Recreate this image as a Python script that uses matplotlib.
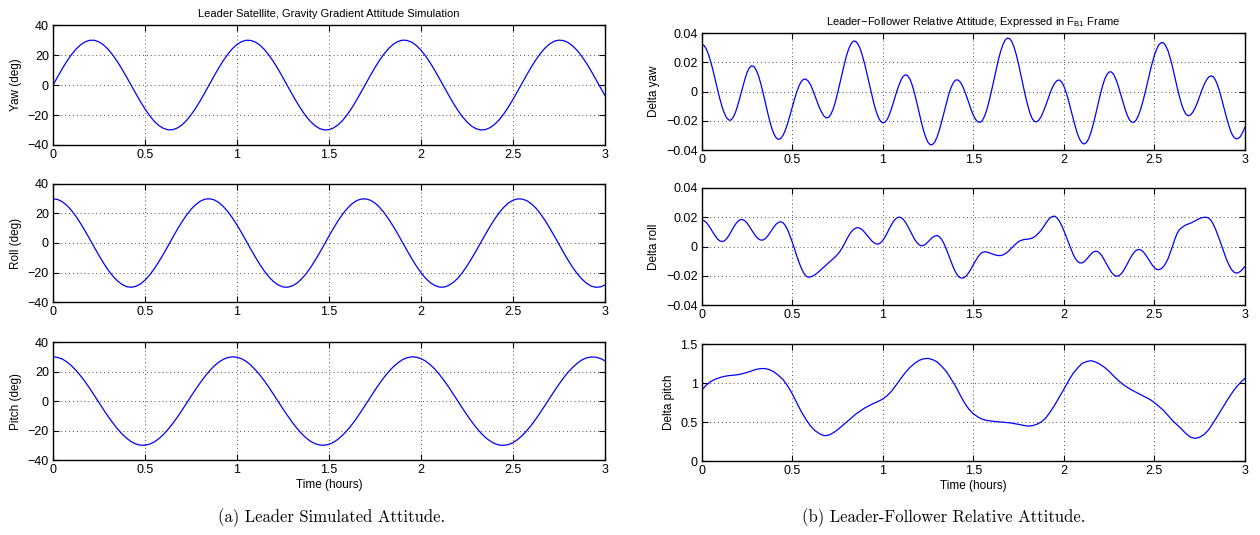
import numpy as np
import matplotlib
matplotlib.use("Agg")
import matplotlib.pyplot as plt
from matplotlib.ticker import FuncFormatter

# --- data ---------------------------------------------------------------
# left column + right pitch: samples every 0.025 h
t_mid = np.linspace(0, 3, 121)
yaw = [0.0, 5.5, 10.9, 15.9, 20.3, 24.0, 26.9, 28.9, 29.9, 29.9,
       28.8, 26.8, 23.8, 20.0, 15.6, 10.6, 5.3, -0.2, -5.7, -11.0,
       -16.0, -20.4, -24.2, -27.0, -28.9, -29.9, -29.8, -28.7, -26.7, -23.7,
       -19.9, -15.5, -10.5, -5.1, 0.4, 6.0, 11.3, 16.2, 20.6, 24.3,
       27.1, 29.0, 29.9, 29.8, 28.7, 26.6, 23.6, 19.8, 15.3, 10.3,
       4.9, -0.7, -6.2, -11.5, -16.4, -20.8, -24.4, -27.2, -29.1, -30.0,
       -29.8, -28.6, -26.5, -23.5, -19.6, -15.1, -10.0, -4.6, 0.9, 6.4,
       11.7, 16.6, 20.9, 24.5, 27.3, 29.1, 30.0, 29.8, 28.6, 26.4,
       23.3, 19.4, 14.9, 9.8, 4.4, -1.1, -6.6, -11.9, -16.8, -21.1,
       -24.6, -27.4, -29.2, -30.0, -29.7, -28.5, -26.3, -23.2, -19.3, -14.7,
       -9.6, -4.2, 1.3, 6.8, 12.1, 16.9, 21.2, 24.8, 27.5, 29.3,
       30.0, 29.7, 28.4, 26.1, 23.0, 19.1, 14.5, 9.4, 4.0, -1.5,
       -7.0]
roll = [30.0, 29.5, 28.0, 25.5, 22.1, 18.0, 13.2, 8.0, 2.5, -3.1,
        -8.5, -13.7, -18.4, -22.4, -25.7, -28.1, -29.6, -30.0, -29.4, -27.8,
        -25.2, -21.7, -17.5, -12.7, -7.5, -2.0, 3.6, 9.1, 14.2, 18.8,
        22.8, 26.0, 28.3, 29.7, 30.0, 29.3, 27.5, 24.8, 21.3, 17.0,
        12.2, 6.9, 1.4, -4.2, -9.6, -14.7, -19.3, -23.2, -26.3, -28.5,
        -29.8, -30.0, -29.1, -27.3, -24.5, -20.9, -16.6, -11.7, -6.4, -0.9,
        4.7, 10.1, 15.2, 19.7, 23.5, 26.6, 28.7, 29.8, 29.9, 29.0,
        27.1, 24.2, 20.5, 16.1, 11.2, 5.9, 0.3, -5.2, -10.6, -15.6,
        -20.1, -23.9, -26.8, -28.8, -29.9, -29.9, -28.8, -26.8, -23.9, -20.1,
        -15.6, -10.6, -5.3, 0.3, 5.8, 11.1, 16.1, 20.5, 24.2, 27.1,
        29.0, 29.9, 29.8, 28.7, 26.6, 23.6, 19.7, 15.2, 10.1, 4.7,
        -0.8, -6.4, -11.7, -16.6, -20.9, -24.5, -27.3, -29.2, -30.0, -29.8,
        -28.5]
pitch = [30.0, 29.6, 28.5, 26.6, 24.0, 20.8, 17.1, 13.0, 8.5, 3.7,
         -1.1, -5.9, -10.5, -14.8, -18.8, -22.3, -25.2, -27.5, -29.1, -29.9,
         -29.9, -29.2, -27.7, -25.5, -22.7, -19.2, -15.3, -11.0, -6.4, -1.6,
         3.2, 7.9, 12.4, 16.6, 20.4, 23.7, 26.3, 28.3, 29.5, 30.0,
         29.7, 28.7, 26.9, 24.4, 21.2, 17.6, 13.5, 9.0, 4.3, -0.5,
         -5.3, -9.9, -14.3, -18.3, -21.9, -24.9, -27.3, -28.9, -29.8, -29.9,
         -29.3, -27.9, -25.8, -23.0, -19.7, -15.9, -11.6, -7.0, -2.2, 2.6,
         7.4, 12.0, 16.2, 20.0, 23.3, 26.0, 28.1, 29.4, 30.0, 29.8,
         28.8, 27.1, 24.7, 21.7, 18.1, 14.0, 9.6, 4.9, 0.1, -4.7,
         -9.4, -13.8, -17.9, -21.5, -24.6, -27.0, -28.8, -29.8, -30.0, -29.5,
         -28.2, -26.1, -23.4, -20.1, -16.3, -12.1, -7.5, -2.8, 2.0, 6.8,
         11.4, 15.7, 19.6, 22.9, 25.7, 27.9, 29.3, 29.9, 29.8, 28.9,
         27.3]
d_pitch = [0.91, 0.975, 1.02, 1.05, 1.07, 1.085, 1.095, 1.10, 1.107, 1.12,
           1.135, 1.155, 1.175, 1.185, 1.185, 1.17, 1.14, 1.095, 1.04, 0.96,
           0.86, 0.745, 0.63, 0.535, 0.45, 0.39, 0.35, 0.325, 0.33, 0.36,
           0.40, 0.45, 0.50, 0.55, 0.60, 0.64, 0.68, 0.71, 0.74, 0.765,
           0.795, 0.84, 0.90, 0.98, 1.06, 1.135, 1.20, 1.25, 1.29, 1.31,
           1.316, 1.30, 1.27, 1.215, 1.15, 1.06, 0.966, 0.855, 0.75, 0.665,
           0.605, 0.565, 0.535, 0.52, 0.512, 0.505, 0.50, 0.495, 0.49, 0.48,
           0.47, 0.458, 0.448, 0.452, 0.47, 0.50, 0.55, 0.63, 0.72, 0.82,
           0.92, 1.025, 1.12, 1.19, 1.25, 1.275, 1.286, 1.27, 1.24, 1.20,
           1.15, 1.09, 1.035, 0.985, 0.945, 0.91, 0.88, 0.85, 0.82, 0.79,
           0.75, 0.70, 0.65, 0.585, 0.52, 0.465, 0.41, 0.35, 0.305, 0.29,
           0.305, 0.34, 0.40, 0.49, 0.58, 0.675, 0.77, 0.86, 0.94, 1.005,
           1.058]

# right yaw / roll: samples every 0.0125 h
t_fine = np.linspace(0, 3, 241)
d_yaw = [0.0322, 0.0314, 0.0290, 0.0251, 0.0200, 0.0141, 0.0075, 0.0010,
         -0.0052, -0.0107, -0.0150, -0.0181, -0.0196, -0.0194, -0.0173, -0.0137,
         -0.0087, -0.0030, 0.0029, 0.0082, 0.0131, 0.0162, 0.0176, 0.0171,
         0.0148, 0.0110, 0.0058, -0.0004, -0.0071, -0.0138, -0.0201, -0.0254,
         -0.0295, -0.0320, -0.0328, -0.0319, -0.0297, -0.0260, -0.0214, -0.0161,
         -0.0105, -0.0051, -0.0001, 0.0040, 0.0069, 0.0084, 0.0084, 0.0072,
         0.0047, 0.0012, -0.0029, -0.0071, -0.0112, -0.0144, -0.0169, -0.0180,
         -0.0177, -0.0157, -0.0122, -0.0072, -0.0011, 0.0055, 0.0124, 0.0188,
         0.0248, 0.0295, 0.0328, 0.0345, 0.0343, 0.0325, 0.0292, 0.0243,
         0.0187, 0.0120, 0.0052, -0.0016, -0.0080, -0.0134, -0.0176, -0.0204,
         -0.0215, -0.0209, -0.0189, -0.0153, -0.0109, -0.0058, -0.0007, 0.0039,
         0.0077, 0.0104, 0.0115, 0.0108, 0.0084, 0.0042, -0.0012, -0.0074,
         -0.0141, -0.0208, -0.0267, -0.0315, -0.0349, -0.0365, -0.0362, -0.0344,
         -0.0310, -0.0262, -0.0206, -0.0145, -0.0083, -0.0026, 0.0021, 0.0056,
         0.0077, 0.0080, 0.0069, 0.0045, 0.0009, -0.0033, -0.0078, -0.0123,
         -0.0162, -0.0191, -0.0208, -0.0211, -0.0198, -0.0167, -0.0122, -0.0062,
         0.0003, 0.0074, 0.0146, 0.0213, 0.0271, 0.0319, 0.0350, 0.0365,
         0.0362, 0.0341, 0.0303, 0.0250, 0.0185, 0.0114, 0.0041, -0.0030,
         -0.0093, -0.0147, -0.0185, -0.0205, -0.0207, -0.0195, -0.0170, -0.0135,
         -0.0095, -0.0050, -0.0007, 0.0030, 0.0058, 0.0075, 0.0079, 0.0066,
         0.0037, -0.0006, -0.0059, -0.0118, -0.0179, -0.0237, -0.0289, -0.0327,
         -0.0351, -0.0359, -0.0349, -0.0322, -0.0279, -0.0223, -0.0160, -0.0093,
         -0.0027, 0.0032, 0.0083, 0.0116, 0.0134, 0.0134, 0.0117, 0.0084,
         0.0040, -0.0012, -0.0066, -0.0118, -0.0162, -0.0194, -0.0210, -0.0210,
         -0.0194, -0.0163, -0.0118, -0.0063, -0.0002, 0.0065, 0.0130, 0.0192,
         0.0247, 0.0289, 0.0320, 0.0334, 0.0333, 0.0314, 0.0279, 0.0228,
         0.0170, 0.0102, 0.0033, -0.0030, -0.0086, -0.0128, -0.0156, -0.0166,
         -0.0160, -0.0141, -0.0112, -0.0076, -0.0033, 0.0009, 0.0048, 0.0078,
         0.0099, 0.0107, 0.0101, 0.0078, 0.0041, -0.0009, -0.0066, -0.0126,
         -0.0185, -0.0237, -0.0282, -0.0310, -0.0324, -0.0321, -0.0308, -0.0280,
         -0.0245]
d_roll = [0.0181, 0.0177, 0.0164, 0.0144, 0.0120, 0.0094, 0.0071, 0.0050,
          0.0038, 0.0034, 0.0039, 0.0054, 0.0076, 0.0103, 0.0130, 0.0155,
          0.0173, 0.0184, 0.0184, 0.0176, 0.0160, 0.0138, 0.0114, 0.0089,
          0.0068, 0.0052, 0.0044, 0.0044, 0.0053, 0.0069, 0.0091, 0.0114,
          0.0137, 0.0155, 0.0166, 0.0169, 0.0161, 0.0141, 0.0111, 0.0072,
          0.0029, -0.0019, -0.0066, -0.0110, -0.0149, -0.0180, -0.0201, -0.0210,
          -0.0208, -0.0202, -0.0193, -0.0181, -0.0168, -0.0154, -0.0140, -0.0126,
          -0.0111, -0.0098, -0.0085, -0.0070, -0.0054, -0.0034, -0.0010, 0.0018,
          0.0048, 0.0076, 0.0099, 0.0116, 0.0126, 0.0129, 0.0124, 0.0113,
          0.0096, 0.0077, 0.0058, 0.0040, 0.0026, 0.0018, 0.0017, 0.0025,
          0.0042, 0.0066, 0.0095, 0.0126, 0.0154, 0.0178, 0.0194, 0.0201,
          0.0198, 0.0186, 0.0165, 0.0139, 0.0109, 0.0079, 0.0050, 0.0028,
          0.0012, 0.0005, 0.0007, 0.0017, 0.0032, 0.0048, 0.0063, 0.0072,
          0.0075, 0.0067, 0.0048, 0.0020, -0.0016, -0.0056, -0.0097, -0.0137,
          -0.0171, -0.0197, -0.0212, -0.0217, -0.0212, -0.0198, -0.0178, -0.0152,
          -0.0124, -0.0097, -0.0072, -0.0052, -0.0040, -0.0036, -0.0038, -0.0043,
          -0.0049, -0.0054, -0.0059, -0.0062, -0.0062, -0.0058, -0.0050, -0.0039,
          -0.0025, -0.0009, 0.0007, 0.0021, 0.0034, 0.0041, 0.0046, 0.0049,
          0.0050, 0.0053, 0.0057, 0.0066, 0.0079, 0.0094, 0.0112, 0.0134,
          0.0158, 0.0180, 0.0197, 0.0206, 0.0207, 0.0195, 0.0174, 0.0144,
          0.0108, 0.0068, 0.0026, -0.0013, -0.0050, -0.0080, -0.0101, -0.0112,
          -0.0112, -0.0104, -0.0088, -0.0069, -0.0051, -0.0038, -0.0032, -0.0035,
          -0.0048, -0.0068, -0.0095, -0.0123, -0.0151, -0.0176, -0.0193, -0.0203,
          -0.0202, -0.0192, -0.0174, -0.0148, -0.0120, -0.0090, -0.0063, -0.0040,
          -0.0026, -0.0020, -0.0023, -0.0035, -0.0054, -0.0078, -0.0103, -0.0125,
          -0.0145, -0.0156, -0.0159, -0.0152, -0.0138, -0.0115, -0.0085, -0.0043,
          0.0000, 0.0048, 0.0088, 0.0113, 0.0128, 0.0139, 0.0148, 0.0154,
          0.0160, 0.0167, 0.0175, 0.0184, 0.0192, 0.0197, 0.0200, 0.0200,
          0.0194, 0.0179, 0.0153, 0.0120, 0.0080, 0.0038, -0.0007, -0.0051,
          -0.0093, -0.0127, -0.0155, -0.0173, -0.0182, -0.0180, -0.0170, -0.0155,
          -0.0136]

x_ticks = [0, 0.5, 1, 1.5, 2, 2.5, 3]
deg_ticks = [-40, -20, 0, 20, 40]
small_ticks = [-0.04, -0.02, 0, 0.02, 0.04]
pitch_ticks = [0, 0.5, 1, 1.5]

plt.rcParams['font.family'] = ['Liberation Sans', 'DejaVu Sans']

fig = plt.figure(figsize=(12.6, 5.35), dpi=100)

# matlab style tick labels: 0, 0.5, 1 ... with a real minus sign
fmt = FuncFormatter(lambda v, p: f"{v:g}".replace('-', '\u2212'))

left_boxes = [[0.0421, 0.729, 0.438, 0.224],
              [0.0421, 0.4355, 0.438, 0.2206],
              [0.0421, 0.140, 0.438, 0.2206]]
right_boxes = [[0.557, 0.7196, 0.431, 0.2187],
               [0.557, 0.4299, 0.431, 0.2187],
               [0.557, 0.1383, 0.431, 0.2187]]

panels = [
    (left_boxes[0], t_mid, yaw, deg_ticks, 'Yaw (deg)'),
    (left_boxes[1], t_mid, roll, deg_ticks, 'Roll (deg)'),
    (left_boxes[2], t_mid, pitch, deg_ticks, 'Pitch (deg)'),
    (right_boxes[0], t_fine, d_yaw, small_ticks, 'Delta yaw'),
    (right_boxes[1], t_fine, d_roll, small_ticks, 'Delta roll'),
    (right_boxes[2], t_mid, d_pitch, pitch_ticks, 'Delta pitch'),
]

axes = []
for box, t, y, yt, lab in panels:
    ax = fig.add_axes(box)
    ax.plot(t, y, color='#0000ff', lw=0.9)
    ax.set_xlim(0, 3)
    ax.set_ylim(yt[0], yt[-1])
    ax.set_xticks(x_ticks)
    ax.set_yticks(yt)
    ax.xaxis.set_major_formatter(fmt)
    ax.yaxis.set_major_formatter(fmt)
    ax.grid(True, color='0.3', linestyle=(0, (1, 3)), linewidth=0.7)
    ax.tick_params(direction='in', top=True, right=True, length=4,
                   width=0.8, labelsize=9, pad=3)
    for s in ax.spines.values():
        s.set_linewidth(1.0)
    ax.set_ylabel(lab, fontsize=8.5, labelpad=4)
    axes.append(ax)

axes[2].set_xlabel('Time (hours)', fontsize=8.5, labelpad=2)
axes[5].set_xlabel('Time (hours)', fontsize=8.5, labelpad=2)

axes[0].set_title('Leader Satellite, Gravity Gradient Attitude Simulation',
                  fontsize=8, pad=6)
axes[3].set_title('Leader\u2212Follower Relative Attitude, Expressed in '
                  r'$\mathregular{F_{B1}}$ Frame', fontsize=8, pad=6)

fig.text(0.263, 0.032, '(a) Leader Simulated Attitude.', ha='center',
         va='center', fontsize=12, family='cmr10')
fig.text(0.749, 0.032, '(b) Leader-Follower Relative Attitude.', ha='center',
         va='center', fontsize=12, family='cmr10')

fig.savefig('out.png', dpi=100)
